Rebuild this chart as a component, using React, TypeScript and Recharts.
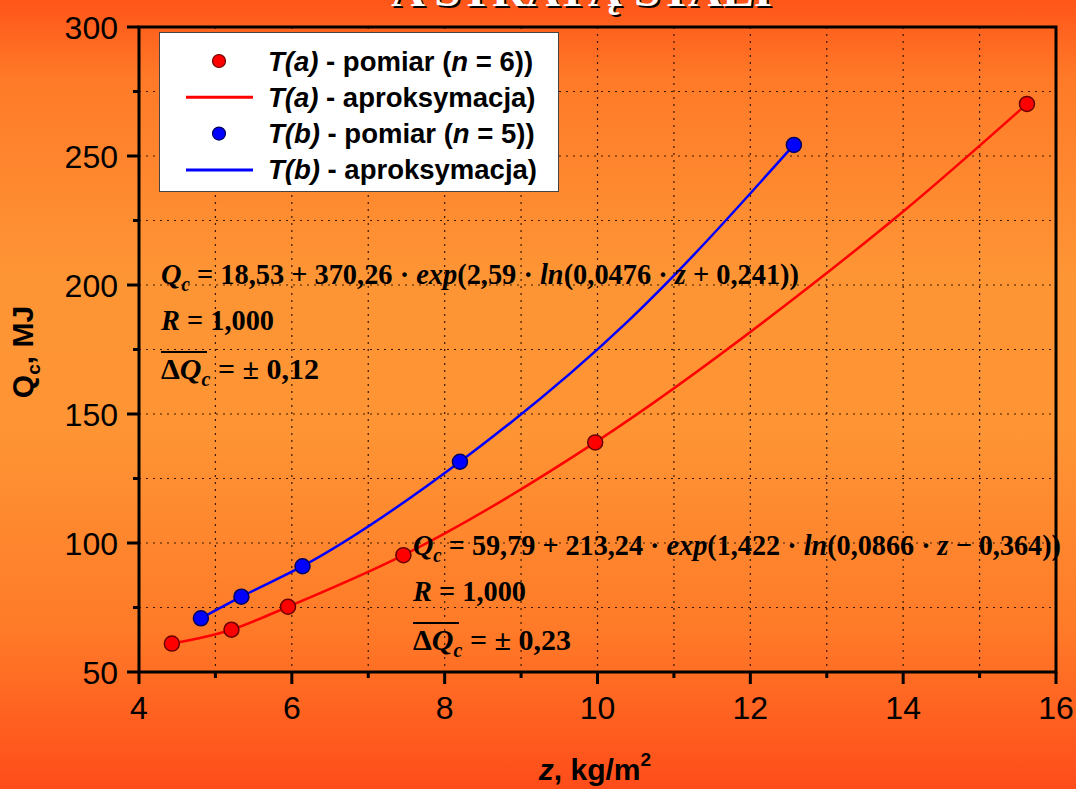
import { ComposedChart, Line, Scatter, XAxis, YAxis, CartesianGrid, ReferenceArea } from 'recharts';

// T(a) - pomiar (n = 6)
const redZ = [4.43, 5.21, 5.95, 7.46, 9.97, 15.62];
const redQ = [61.0, 66.4, 75.3, 95.3, 139.0, 270.2];
// T(b) - pomiar (n = 5)
const blueZ = [4.81, 5.34, 6.14, 8.2, 12.57];
const blueQ = [70.8, 79.2, 91.0, 131.5, 254.3];

// aproksymacja: points
const redFitZ = [4.43, 5.21, 5.95, 7.46, 9.97, 12.8, 14.0, 15.62];
const redFitQ = [61.0, 66.4, 75.3, 95.3, 139.0, 200.0, 228.5, 270.2];
const blueFitZ = [4.81, 5.34, 6.14, 8.2, 10.4, 12.57];
const blueFitQ = [70.8, 79.2, 91.0, 131.5, 186.0, 254.3];

const xTicks = [4, 5, 6, 7, 8, 9, 10, 11, 12, 13, 14, 15, 16];
const yTicks = [50, 75, 100, 125, 150, 175, 200, 225, 250, 275, 300];

const legendItems = [
  { kind: 'dot', color: '#ff0000', edge: '#6a0000', tag: 'T(a)', text: ' - pomiar (', n: '6' },
  { kind: 'line', color: '#ff0000', tag: 'T(a)', text: ' - aproksymacja)' },
  { kind: 'dot', color: '#0000ff', edge: '#000060', tag: 'T(b)', text: ' - pomiar (', n: '5' },
  { kind: 'line', color: '#0000ff', tag: 'T(b)', text: ' - aproksymacja)' },
];

const red = redZ.map((z, i) => ({ z, q: redQ[i] }));
const blue = blueZ.map((z, i) => ({ z, q: blueQ[i] }));
const redFit = redFitZ.map((z, i) => ({ z, q: redFitQ[i] }));
const blueFit = blueFitZ.map((z, i) => ({ z, q: blueFitQ[i] }));

const sans = '"Liberation Sans", Arial, sans-serif';
const serif = '"Liberation Serif", "Times New Roman", serif';

const XTick = (props: any) => {
  const { x, y, payload } = props;
  const major = payload.value % 2 === 0;
  return (
    <g>
      <line x1={x} y1={y} x2={x} y2={y + (major ? 12 : 6)} stroke='#000' strokeWidth={3} />
      {major && (
        <text x={x} y={y + 47} textAnchor='middle' fontSize={32} fontFamily={sans} fill='#000'>
          {payload.value}
        </text>
      )}
    </g>
  );
};

const YTick = (props: any) => {
  const { x, y, payload } = props;
  const major = payload.value % 50 === 0;
  return (
    <g>
      <line x1={x - (major ? 12 : 6)} y1={y} x2={x} y2={y} stroke='#000' strokeWidth={3} />
      {major && (
        <text x={x - 21} y={y + 11.5} textAnchor='end' fontSize={32} fontFamily={sans} fill='#000'>
          {payload.value}
        </text>
      )}
    </g>
  );
};

const dot = (fill: string, edge: string) => (p: any) =>
  <circle cx={p.cx} cy={p.cy} r={7.5} fill={fill} stroke={edge} strokeWidth={1.5} />;

const Equation = ({ x, y, w, a, b, c, d }: any) => (
  <g fontFamily={serif} fontWeight='bold' fontSize={30} fill='#000' style={{ whiteSpace: 'pre' }}>
    <text x={x} y={y} textLength={w} lengthAdjust='spacingAndGlyphs'>
      <tspan fontStyle='italic'>Q</tspan>
      <tspan fontStyle='italic' fontSize={20} dy={7}>c</tspan>
      <tspan dy={-7}>{` = ${a} + ${b} · `}</tspan>
      <tspan fontStyle='italic'>exp</tspan>
      <tspan>{`(${c} · `}</tspan>
      <tspan fontStyle='italic'>ln</tspan>
      <tspan>{`(${d[0]} · `}</tspan>
      <tspan fontStyle='italic'>z</tspan>
      <tspan>{` ${d[1]} ${d[2]}))`}</tspan>
    </text>
  </g>
);

const Stats = ({ x, y, dq }: any) => (
  <g fontFamily={serif} fontWeight='bold' fontSize={30} fill='#000' style={{ whiteSpace: 'pre' }}>
    <text x={x} y={y} textLength={113} lengthAdjust='spacingAndGlyphs'>
      <tspan fontStyle='italic'>R</tspan>
      <tspan>{' = 1,000'}</tspan>
    </text>
    <line x1={x} y1={y + 22} x2={x + 46} y2={y + 22} stroke='#000' strokeWidth={2} />
    <text x={x} y={y + 49}>
      <tspan>Δ</tspan>
      <tspan fontStyle='italic'>Q</tspan>
      <tspan fontStyle='italic' fontSize={20} dy={7}>c</tspan>
      <tspan dy={-7}>{` = ± ${dq}`}</tspan>
    </text>
  </g>
);

const App = () => {
  return (
    <div
      style={{
        position: 'absolute',
        left: 0,
        top: 0,
        width: 1076,
        height: 789,
        overflow: 'hidden',
        background:
          'linear-gradient(to bottom, #ff5519 0%, #ff7a28 10%, #fe9535 35%, #fe9434 55%, #ff7a28 80%, #ff4c1a 100%)',
      }}
    >
      <ComposedChart width={1076} height={789} margin={{ top: 27, right: 20, bottom: 0, left: 0 }}>
        <CartesianGrid stroke='#3a1800' strokeDasharray='2 5' strokeWidth={1.2} />
        <XAxis
          dataKey='z'
          type='number'
          domain={[4, 16]}
          ticks={xTicks}
          height={117}
          axisLine={false}
          tickLine={false}
          tickSize={0}
          tickMargin={0}
          tick={<XTick />}
          interval={0}
        />
        <YAxis
          dataKey='q'
          type='number'
          domain={[50, 300]}
          ticks={yTicks}
          width={139}
          axisLine={false}
          tickLine={false}
          tickSize={0}
          tickMargin={0}
          tick={<YTick />}
          interval={0}
        />
        <ReferenceArea x1={4} x2={16} y1={50} y2={300} fill='none' stroke='#000' strokeWidth={3} />
        <Line data={redFit} dataKey='q' type='monotone' stroke='#ff0000' strokeWidth={2.5} dot={false} isAnimationActive={false} />
        <Line data={blueFit} dataKey='q' type='monotone' stroke='#0000ff' strokeWidth={2.5} dot={false} isAnimationActive={false} />
        <Scatter data={red} dataKey='q' shape={dot('#ff0000', '#6a0000')} isAnimationActive={false} />
        <Scatter data={blue} dataKey='q' shape={dot('#0000ff', '#000060')} isAnimationActive={false} />
      </ComposedChart>

      <svg width={1076} height={789} style={{ position: 'absolute', left: 0, top: 0, pointerEvents: 'none' }}>
        {/* title, cut off at the top */}
        <text x={393} y={8} fontFamily={serif} fontWeight='bold' fontSize={44} fill='#000' textLength={381} lengthAdjust='spacingAndGlyphs'>
          A STRATĄ STALI
        </text>
        <text x={391} y={6} fontFamily={serif} fontWeight='bold' fontSize={44} fill='#fff' textLength={381} lengthAdjust='spacingAndGlyphs'>
          A STRATĄ STALI
        </text>

        {/* legend */}
        <rect x={159.5} y={32.5} width={399} height={159} fill='#fff' stroke='#444' strokeWidth={1} />
        {legendItems.map((it, i) => {
          const cy = 61 + i * 36.3;
          return (
            <g key={i}>
              {it.kind === 'dot' ? (
                <circle cx={219} cy={cy} r={6.5} fill={it.color} stroke={it.edge} strokeWidth={1.2} />
              ) : (
                <line x1={186} y1={cy} x2={253} y2={cy} stroke={it.color} strokeWidth={3} />
              )}
              <text x={268} y={cy + 9.5} fontFamily={sans} fontWeight='bold' fontSize={27.5} fill='#000' style={{ whiteSpace: 'pre' }}>
                <tspan fontStyle='italic'>{it.tag}</tspan>
                <tspan>{it.text}</tspan>
                {it.n && (
                  <>
                    <tspan fontStyle='italic'>n</tspan>
                    <tspan>{` = ${it.n}))`}</tspan>
                  </>
                )}
              </text>
            </g>
          );
        })}

        {/* fitted equations */}
        <Equation x={161} y={284} w={638} a='18,53' b='370,26' c='2,59' d={['0,0476', '+', '0,241']} />
        <Stats x={161} y={330} dq='0,12' />
        <Equation x={413} y={555} w={648} a='59,79' b='213,24' c='1,422' d={['0,0866', '−', '0,364']} />
        <Stats x={413} y={601} dq='0,23' />

        {/* axis titles */}
        <text
          x={33}
          y={352}
          transform='rotate(-90 33 352)'
          textAnchor='middle'
          fontFamily={sans}
          fontWeight='bold'
          fontSize={30}
          fill='#000'
          style={{ whiteSpace: 'pre' }}
        >
          <tspan>Q</tspan>
          <tspan fontSize={19} dy={7}>c</tspan>
          <tspan dy={-7}>, MJ</tspan>
        </text>
        <text x={595} y={780} textAnchor='middle' fontFamily={sans} fontWeight='bold' fontSize={30} fill='#000' style={{ whiteSpace: 'pre' }}>
          <tspan fontStyle='italic'>z</tspan>
          <tspan>, kg/m</tspan>
          <tspan fontSize={19} dy={-14}>2</tspan>
        </text>
      </svg>
    </div>
  );
};

export default App;
